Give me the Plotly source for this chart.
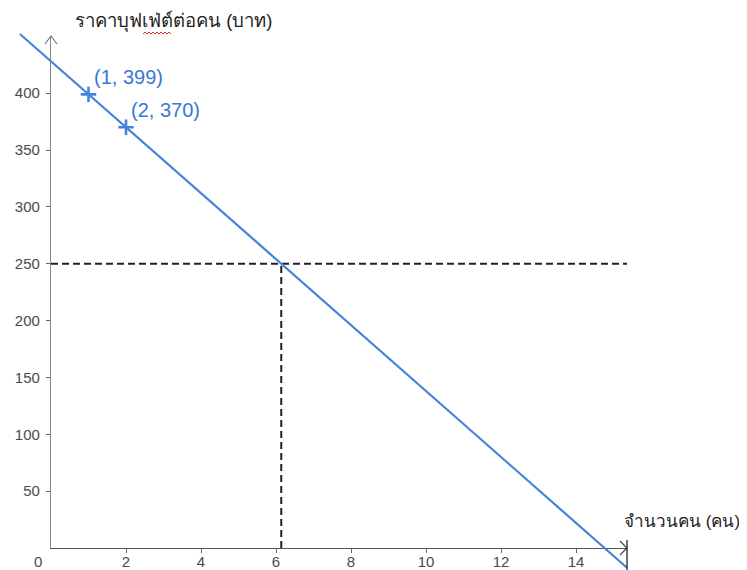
import plotly.graph_objects as go

# ---------------- data ----------------
point_x = [1, 2]
point_y = [399, 370]
point_labels = ["(1, 399)", "(2, 370)"]

line_x = [-0.83, 15.36]          # visible ends of the demand line
line_y = [452.1, -17.4]

price_level = 250                # dashed horizontal guide
qty_at_price = 6.14              # dashed vertical guide

x_ticks = [2, 4, 6, 8, 10, 12, 14]
y_ticks = [50, 100, 150, 200, 250, 300, 350, 400]
x_max = 15.36
y_max = 450.3

y_title = "ราคาบุฟเฟ่ต์ต่อคน (บาท)"
x_title = "จำนวนคน (คน)"

# ---------------- layout constants ----------------
W, H = 747, 570
PAGE = 8                         # page body margin in the browser
X0PIX, Y0PIX = 51 - PAGE, 548 - PAGE   # figure pixel of the origin
XS, YS = 37.5, 1.137             # pixels per unit

BLUE = "#4384d9"
LABEL_BLUE = "#3a78d2"
FONT = "Liberation Sans, Arial, sans-serif"
TICKFONT = dict(family=FONT, size=15, color="#4a4a4a")

fig = go.Figure()

# dashed guides (on the visible axes)
fig.add_trace(go.Scatter(x=[0, x_max], y=[price_level, price_level], mode="lines",
                         line=dict(color="#222222", width=2, dash="7px,4px"),
                         xaxis="x", yaxis="y", hoverinfo="skip"))
fig.add_trace(go.Scatter(x=[qty_at_price, qty_at_price], y=[0, price_level], mode="lines",
                         line=dict(color="#222222", width=2, dash="7px,4px"),
                         xaxis="x", yaxis="y", hoverinfo="skip"))
# demand line (on the full-figure overlay axes)
fig.add_trace(go.Scatter(x=line_x, y=line_y, mode="lines",
                         line=dict(color=BLUE, width=2.2),
                         xaxis="x2", yaxis="y2", hoverinfo="skip"))
# points
fig.add_trace(go.Scatter(x=point_x, y=point_y, mode="markers",
                         marker=dict(symbol="cross-thin", size=11,
                                     line=dict(color=BLUE, width=2.6), color=BLUE),
                         xaxis="x2", yaxis="y2", cliponaxis=False, hoverinfo="skip"))
for px, py, lab in zip(point_x, point_y, point_labels):
    fig.add_annotation(x=px, y=py, xref="x2", yref="y2", text=lab, showarrow=False,
                       xanchor="left", yanchor="middle", xshift=3, yshift=17,
                       font=dict(family=FONT, size=20, color=LABEL_BLUE))

axis_common = dict(showgrid=False, zeroline=False, ticks="outside", ticklen=4,
                   tickwidth=1, tickcolor="#666666", tickfont=TICKFONT)

fig.update_layout(
    width=W, height=H, margin=dict(l=0, r=0, t=0, b=0),
    paper_bgcolor="white", plot_bgcolor="rgba(0,0,0,0)", showlegend=False,
    xaxis=dict(domain=[X0PIX / W, (X0PIX + x_max * XS) / W], range=[0, x_max],
               tickvals=x_ticks, showline=True, linecolor="#555555", linewidth=1.2,
               anchor="y", ticklabelstandoff=-4, **axis_common),
    yaxis=dict(domain=[(H - Y0PIX) / H, (H - Y0PIX + y_max * YS) / H], range=[0, y_max],
               tickvals=y_ticks, showline=True, linecolor="#888888", linewidth=1.2,
               anchor="x", ticklabelstandoff=3, **axis_common),
    xaxis2=dict(domain=[0, 1], range=[-X0PIX / XS, (W - X0PIX) / XS], visible=False,
                anchor="y2"),
    yaxis2=dict(domain=[0, 1], range=[-(H - Y0PIX) / YS, Y0PIX / YS], visible=False,
                anchor="x2"),
)

# origin label
fig.add_annotation(x=0, y=0, xref="x2", yref="y2", text="0", showarrow=False,
                   xshift=-13, yshift=-13, font=TICKFONT)

# axis titles
fig.add_annotation(x=(73 - PAGE) / W, y=1 - (22 - PAGE) / H, xref="paper", yref="paper",
                   text=y_title, showarrow=False, xanchor="left", yanchor="middle",
                   font=dict(family=FONT, size=18.5, color="#222222"))
fig.add_annotation(x=(622 - PAGE) / W, y=1 - (521 - PAGE) / H, xref="paper", yref="paper",
                   text=x_title, showarrow=False, xanchor="left", yanchor="middle",
                   font=dict(family=FONT, size=17, color="#222222"))

# axis arrow heads and end bar
fig.add_shape(type="path", xref="x2", yref="y2", xsizemode="pixel", ysizemode="pixel",
              xanchor=0, yanchor=y_max, path="M-6,-8 L0,0 L6,-8",
              line=dict(color="#777777", width=1.2))
fig.add_shape(type="path", xref="x2", yref="y2", xsizemode="pixel", ysizemode="pixel",
              xanchor=x_max, yanchor=0, path="M-7,7 L0,0 L-7,-7",
              line=dict(color="#444444", width=1.2))
fig.add_shape(type="line", xref="x2", yref="y2", ysizemode="pixel",
              x0=x_max, x1=x_max, yanchor=0, y0=8, y1=-22,
              line=dict(color="#222222", width=1.3))

# spell-check squiggle under part of the y title
fig.add_shape(type="path", xref="x2", yref="y2", xsizemode="pixel", ysizemode="pixel",
              xanchor=(143 - 51) / XS, yanchor=(548 - 34) / YS,
              path="M0,0 L2,2 L4,0 L6,2 L8,0 L10,2 L12,0 L14,2 L16,0 L18,2 L20,0 L22,2 L24,0 L26,2 L28,0",
              line=dict(color="#e03030", width=1))

fig.write_html("out.html")
